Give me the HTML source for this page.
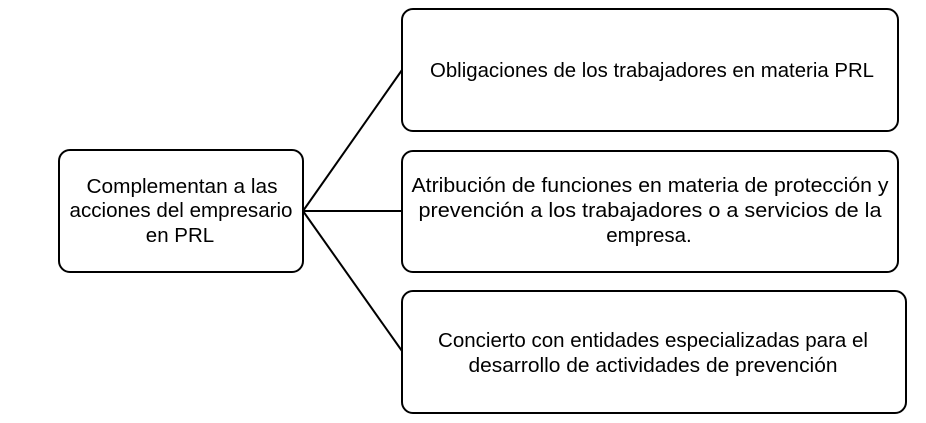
<!DOCTYPE html>
<html><head><meta charset="utf-8"><style>html,body{margin:0;padding:0;background:#fff}svg{display:block}</style></head>
<body>
<svg width="926" height="423" viewBox="0 0 926 423" xmlns="http://www.w3.org/2000/svg" font-family="'Liberation Sans', sans-serif" font-size="20.5" fill="#000">
<g stroke="#000" stroke-width="2" fill="none">
<line x1="303" y1="211" x2="402" y2="70"/>
<line x1="303" y1="211" x2="402" y2="211"/>
<line x1="303" y1="211" x2="402" y2="351"/>
<rect x="59" y="150" width="244" height="122" rx="11"/>
<rect x="402" y="9" width="496" height="122" rx="11"/>
<rect x="402" y="151" width="496" height="121" rx="11"/>
<rect x="402" y="291" width="504" height="122" rx="11"/>
</g>
<g text-anchor="middle">
<text x="182" y="193" textLength="191" lengthAdjust="spacingAndGlyphs">Complementan a las</text>
<text x="181" y="217" textLength="223" lengthAdjust="spacingAndGlyphs">acciones del empresario</text>
<text x="180" y="242">en PRL</text>
<text x="652" y="77" textLength="444" lengthAdjust="spacingAndGlyphs">Obligaciones de los trabajadores en materia PRL</text>
<text x="650" y="192" textLength="477" lengthAdjust="spacingAndGlyphs">Atribución de funciones en materia de protección y</text>
<text x="650" y="217" textLength="463" lengthAdjust="spacingAndGlyphs">prevención a los trabajadores o a servicios de la</text>
<text x="649" y="242">empresa.</text>
<text x="653" y="347" textLength="430" lengthAdjust="spacingAndGlyphs">Concierto con entidades especializadas para el</text>
<text x="653" y="372" textLength="369" lengthAdjust="spacingAndGlyphs">desarrollo de actividades de prevención</text>
</g>
</svg>
</body></html>
